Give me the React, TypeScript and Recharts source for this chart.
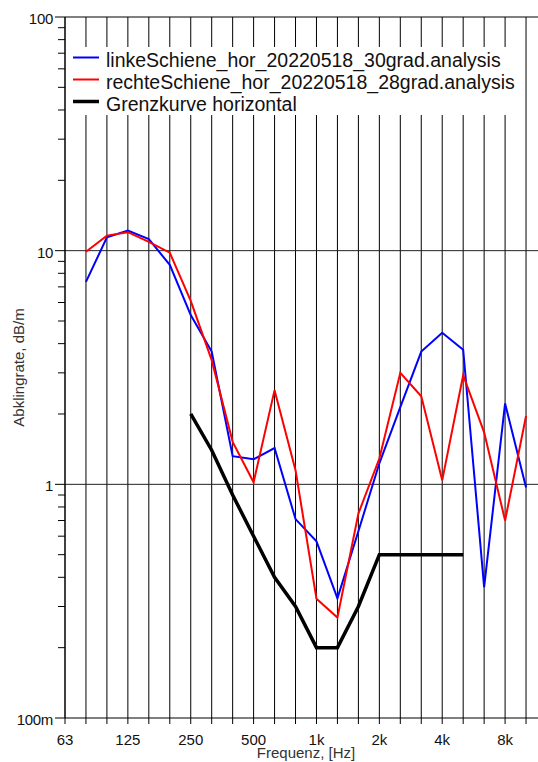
import React from 'react';
import { LineChart, Line, XAxis, YAxis, CartesianGrid, ReferenceLine } from 'recharts';

const FONT = '"Liberation Sans", Arial, sans-serif';

// third-octave bands 63 Hz .. 10 kHz
const bands = ['63', '80', '100', '125', '160', '200', '250', '315', '400', '500', '630', '800',
  '1k', '1.25k', '1.6k', '2k', '2.5k', '3.15k', '4k', '5k', '6.3k', '8k', '10k'];
const bandLabels = ['63', '125', '250', '500', '1k', '2k', '4k', '8k'];

const linke = [null, 7.35, 11.4, 12.2, 11.2, 8.7, 5.3, 3.7, 1.32, 1.28, 1.43, 0.71,
  0.57, 0.325, 0.63, 1.23, 2.14, 3.7, 4.45, 3.77, 0.363, 2.22, 0.97];
const rechte = [null, 9.9, 11.6, 12.0, 10.9, 9.8, 6.1, 3.4, 1.52, 1.02, 2.53, 1.15,
  0.324, 0.269, 0.75, 1.29, 3.0, 2.38, 1.04, 2.93, 1.67, 0.7, 1.96];
const grenz = [null, null, null, null, null, null, 2.0, 1.4, 0.9, 0.6, 0.4, 0.3,
  0.2, 0.2, 0.3, 0.5, 0.5, 0.5, 0.5, 0.5, null, null, null];

const yTicks = [0.1, 0.2, 0.3, 0.4, 0.5, 0.6, 0.7, 0.8, 0.9, 1, 2, 3, 4, 5, 6, 7, 8, 9,
  10, 20, 30, 40, 50, 60, 70, 80, 90, 100];
const yLabels: Record<string, string> = { '0.1': '100m', '1': '1', '10': '10', '100': '100' };

const legendItems = [
  { name: 'linkeSchiene_hor_20220518_30grad.analysis', color: '#0000ff', width: 2 },
  { name: 'rechteSchiene_hor_20220518_28grad.analysis', color: '#ff0000', width: 2 },
  { name: 'Grenzkurve horizontal', color: '#000000', width: 3.5 },
];

const data = bands.map((band, i) => ({
  i,
  band,
  linke: linke[i],
  rechte: rechte[i],
  grenz: grenz[i],
}));

const YTick = (props: any) => {
  const { x, y, payload } = props;
  const label = yLabels[String(payload.value)];
  const major = label !== undefined;
  return (
    <g>
      <line x1={x - (major ? 10 : 7)} x2={x} y1={y} y2={y} stroke="#000" />
      {major && (
        <text x={x - 12} y={y + 1.5} dy="0.36em" textAnchor="end" fontSize={15}
          fontFamily={FONT} fill="#111" letterSpacing={-0.3}>
          {label}
        </text>
      )}
    </g>
  );
};

const App = () => {
  return (
    <div style={{ position: 'absolute', left: 0, top: 0, width: 538, height: 762, overflow: 'hidden', background: '#fff' }}>
      <LineChart width={547} height={762} data={data} margin={{ top: 17, right: 0, bottom: 0, left: 0 }}>
        <CartesianGrid horizontal={false} stroke="#000" />
        <XAxis
          dataKey="i"
          type="number"
          domain={[0, 23]}
          ticks={bands.map((_, i) => i)}
          interval={0}
          height={44}
          tickSize={6}
          tickMargin={10}
          stroke="#000"
          tick={{ fontSize: 15, fill: '#111', fontFamily: FONT }}
          tickFormatter={(v: number) => (bandLabels.includes(bands[v]) ? bands[v] : '')}
          label={{
            content: (p: any) => (
              <text x={p.viewBox.x + p.viewBox.width / 2} y={758} textAnchor="middle"
                fontSize={15} fontFamily={FONT} fill="#333">
                Frequenz, [Hz]
              </text>
            ),
          }}
        />
        <YAxis
          scale="log"
          type="number"
          domain={[0.1, 100]}
          allowDataOverflow
          ticks={yTicks}
          interval={0}
          width={65}
          tickSize={0}
          tickMargin={0}
          tickLine={false}
          stroke="#000"
          tick={<YTick />}
          label={{
            content: (p: any) => {
              const cx = 19;
              const cy = p.viewBox.y + p.viewBox.height / 2;
              return (
                <text x={cx} y={cy} dy="0.36em" textAnchor="middle" transform={`rotate(-90 ${cx} ${cy})`}
                  fontSize={15} fontFamily={FONT} fill="#333">
                  Abklingrate, dB/m
                </text>
              );
            },
          }}
        />
        <ReferenceLine y={100} stroke="#000" />
        <ReferenceLine y={10} stroke="#222" />
        <ReferenceLine y={1} stroke="#222" />
        <Line type="linear" dataKey="linke" stroke="#0000ff" strokeWidth={2} dot={false} isAnimationActive={false} />
        <Line type="linear" dataKey="rechte" stroke="#ff0000" strokeWidth={2} dot={false} isAnimationActive={false} />
        <Line type="linear" dataKey="grenz" stroke="#000000" strokeWidth={3.5} dot={false} isAnimationActive={false} />
      </LineChart>

      {/* legend box */}
      <div style={{ position: 'absolute', left: 67, top: 47, width: 453, height: 68, background: '#fff' }}>
        {legendItems.map((item, k) => (
          <div key={item.name} style={{ position: 'absolute', left: 0, top: k * 22.2, height: 22, width: 453 }}>
            <svg width={34} height={22} style={{ position: 'absolute', left: 0, top: 0 }}>
              <line x1={6} x2={32} y1={10.5} y2={10.5} stroke={item.color} strokeWidth={item.width} />
            </svg>
            <span style={{
              position: 'absolute', left: 39, top: 2, lineHeight: '22px', fontSize: 19.5,
              fontFamily: FONT, color: '#111', whiteSpace: 'nowrap',
            }}>
              {item.name}
            </span>
          </div>
        ))}
      </div>
    </div>
  );
};

export default App;
